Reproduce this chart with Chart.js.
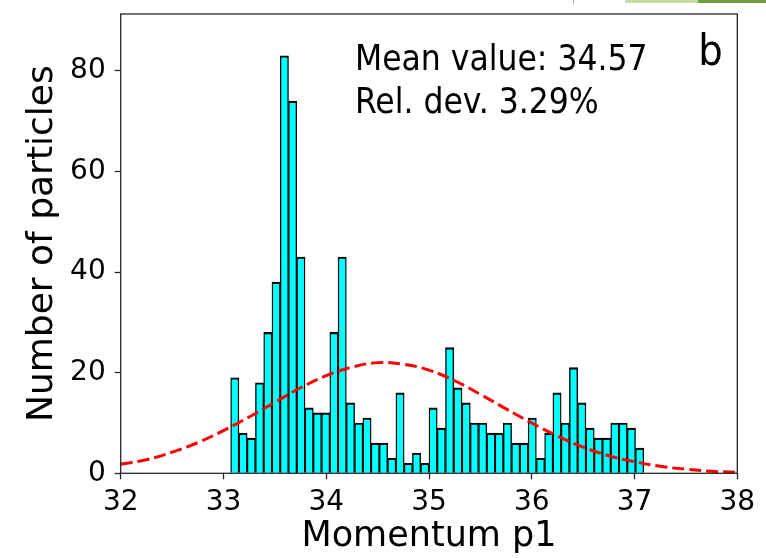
<!DOCTYPE html>
<html>
<head>
<meta charset="utf-8">
<script src="https://cdn.jsdelivr.net/npm/chart.js@4"></script>
<style>
  body { margin: 0; background: #fff; }
  #wrap { position: relative; width: 766px; height: 558px; }
  .strip { position: absolute; top: 0; }
</style>
</head>
<body>
<div id="wrap">
  <canvas id="grafica" width="766" height="558"></canvas>
  <div class="strip" style="left:573px;width:1px;height:4px;background:#b0b0b0"></div>
  <div class="strip" style="left:625px;width:73px;height:3px;background:#c6dda2"></div>
  <div class="strip" style="left:698px;width:68px;height:3px;background:#6e9e3e"></div>
</div>
<script>
// histogram of p1: 50 bins between the min and max momentum
const histMin = 33.07
const histMax = 37.09
const counts = [19, 8, 7, 18, 28, 38, 83, 74, 43, 13,
                12, 12, 28, 43, 14, 10, 11, 6, 6, 3,
                16, 2, 4, 2, 13, 9, 25, 17, 14, 10,
                10, 8, 8, 10, 6, 6, 11, 3, 8, 16,
                10, 21, 14, 9, 7, 7, 10, 10, 9, 5]

// normal fit (mean 34.57), read every 0.25
const fitX = [32, 32.25, 32.5, 32.75, 33, 33.25, 33.5, 33.75, 34, 34.25, 34.5, 34.75,
              35, 35.25, 35.5, 35.75, 36, 36.25, 36.5, 36.75, 37, 37.25, 37.5, 37.75, 38]
const fitY = [1.8, 2.7, 4.2, 6.1, 8.5, 11.2, 14.1, 17.0, 19.4, 21.1, 22.0, 21.7,
              20.5, 18.4, 15.7, 12.8, 10.0, 7.4, 5.2, 3.5, 2.3, 1.4, 0.8, 0.4, 0.2]

const xTicks = [32, 33, 34, 35, 36, 37, 38]
const yTicks = [0, 20, 40, 60, 80]

const notes = [
  { text: 'Mean value: 34.57', x: 34.28, y: 80.2, size: 35 },
  { text: 'Rel. dev. 3.29%', x: 34.28, y: 71.7, size: 35 },
  { text: 'b', x: 37.62, y: 81.2, size: 43 }
]

const binW = (histMax - histMin) / counts.length
const barPoints = counts.map((c, i) => ({ x: histMin + binW * (i + 0.5), y: c }))
const fitPoints = fitX.map((x, i) => ({ x: x, y: fitY[i] }))

const frameAndNotes = {
  id: 'frameAndNotes',
  afterDraw(chart) {
    const c = chart.ctx
    const a = chart.chartArea
    c.save()
    c.strokeStyle = '#262626'
    c.lineWidth = 1.3
    c.strokeRect(a.left, a.top, a.right - a.left, a.bottom - a.top)
    c.fillStyle = '#000'
    c.textBaseline = 'alphabetic'
    notes.forEach(n => {
      c.font = n.size + 'px "DejaVu Sans Condensed"'
      c.fillText(n.text, chart.scales.x.getPixelForValue(n.x), chart.scales.y.getPixelForValue(n.y))
    })
    c.restore()
  }
}

const ctx = document.getElementById('grafica')

new Chart(ctx, {
  data: {
    datasets: [{
      type: 'line',
      label: 'fit',
      data: fitPoints,
      borderColor: '#ff0000',
      borderWidth: 3,
      borderDash: [12, 5],
      pointRadius: 0,
      tension: 0.4,
      fill: false,
      order: 0
    }, {
      type: 'bar',
      label: 'p1',
      data: barPoints,
      backgroundColor: '#00ffff',
      borderColor: '#000000',
      borderWidth: { top: 2.2, left: 1.4, right: 1.4, bottom: 0 },
      borderSkipped: 'start',
      barPercentage: 1,
      categoryPercentage: 1,
      order: 1
    }]
  },
  options: {
    responsive: false,
    animation: false,
    layout: { padding: { left: 0, top: 14, right: 28.7, bottom: 0 } },
    plugins: { legend: { display: false }, tooltip: { enabled: false } },
    scales: {
      x: {
        type: 'linear',
        min: 32,
        max: 38,
        offset: false,
        afterBuildTicks: s => { s.ticks = xTicks.map(v => ({ value: v })) },
        afterFit: s => { s.height = 84.7; s.paddingLeft = 0; s.paddingRight = 0 },
        grid: { offset: false, drawOnChartArea: false, drawTicks: true, tickLength: 6, tickWidth: 1.3, tickColor: '#262626' },
        border: { display: false },
        ticks: { color: '#000', padding: 7, maxRotation: 0, font: { family: 'DejaVu Sans', size: 28 } },
        title: {
          display: true,
          text: 'Momentum p1',
          color: '#000',
          padding: { top: 0, bottom: 0 },
          font: { family: 'DejaVu Sans', size: 35, lineHeight: 1.2 }
        }
      },
      y: {
        min: 0,
        max: 91.3,
        afterBuildTicks: s => { s.ticks = yTicks.map(v => ({ value: v })) },
        afterFit: s => { s.width = 120.7; s.paddingTop = 0; s.paddingBottom = 0 },
        grid: { drawOnChartArea: false, drawTicks: true, tickLength: 6, tickWidth: 1.3, tickColor: '#262626' },
        border: { display: false },
        ticks: { color: '#000', padding: 9, font: { family: 'DejaVu Sans', size: 28 } },
        title: {
          display: true,
          text: 'Number of particles',
          color: '#000',
          padding: { top: 21, bottom: 0 },
          font: { family: 'DejaVu Sans', size: 36, lineHeight: 1.2 }
        }
      }
    }
  },
  plugins: [frameAndNotes]
})
</script>
</body>
</html>
